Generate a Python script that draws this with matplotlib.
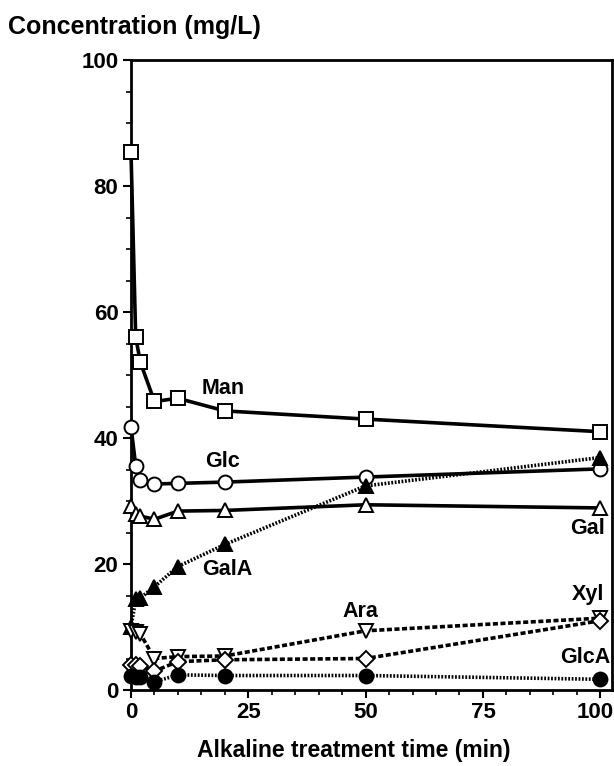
import numpy as np
import matplotlib.pyplot as plt
from matplotlib.ticker import MultipleLocator, FuncFormatter

plt.rcParams['font.family'] = 'Liberation Sans'
plt.rcParams['font.weight'] = 'bold'

# Sampling times (min)
t = [0, 1, 2, 5, 10, 20, 50, 100]

# Concentrations (mg/L)
man  = [85.4, 56.0, 52.0, 45.8, 46.3, 44.3, 43.0, 41.0]
glc  = [41.8, 35.6, 33.3, 32.7, 32.8, 33.0, 33.8, 35.1]
gal  = [29.2, 28.0, 27.6, 27.1, 28.4, 28.5, 29.4, 28.9]
gala = [10.0, 14.4, 14.6, 16.4, 19.6, 23.1, 32.4, 36.9]
ara  = [9.4, 9.2, 8.9, 5.0, 5.3, 5.4, 9.4, 11.4]
xyl  = [4.0, 3.9, 3.8, 3.0, 4.5, 4.8, 5.0, 11.0]
glca = [2.2, 2.0, 2.0, 1.3, 2.4, 2.3, 2.3, 1.7]

fig = plt.figure(figsize=(6.14, 7.66), dpi=100)
ax = fig.add_axes([131/614, 76/766, 481/614, 630/766])

lw = 2.6
ms = 10
mk = dict(markersize=ms, markeredgewidth=1.4, markeredgecolor='black', clip_on=False, zorder=3)

ax.plot(t, man, '-s', color='black', lw=lw, markerfacecolor='white', **mk)
ax.plot(t, glc, '-o', color='black', lw=lw, markerfacecolor='white', **mk)
ax.plot(t, gal, '-^', color='black', lw=lw, markerfacecolor='white', **mk)
ax.plot(t, gala, '^', color='black', ls=(0, (0.5, 0.45)), lw=lw, markerfacecolor='black', **mk)
ax.plot(t, ara, 'v', color='black', ls=(0, (1.4, 0.7)), lw=lw, markerfacecolor='white', **mk)
ax.plot(t, xyl, 'D', color='black', ls=(0, (1.4, 0.7)), lw=lw, markerfacecolor='white',
        markersize=8, markeredgewidth=1.4, markeredgecolor='black', clip_on=False, zorder=3)
ax.plot(t, glca, 'o', color='black', ls=(0, (0.5, 0.45)), lw=lw, markerfacecolor='black', **mk)

lab = dict(fontsize=15.5, fontweight='bold', ha='center', va='center')
ax.text(19.6, 47.9, 'Man', **lab)
ax.text(19.4, 36.2, 'Glc', **lab)
ax.text(20.5, 19.2, 'GalA', **lab)
ax.text(97.2, 25.7, 'Gal', **lab)
ax.text(48.8, 12.4, 'Ara', **lab)
ax.text(97.4, 15.1, 'Xyl', **lab)
ax.text(96.8, 5.1, 'GlcA', **lab)

ax.set_xlim(0, 102.5)
ax.set_ylim(0, 100)
ax.xaxis.set_major_locator(MultipleLocator(25))
ax.xaxis.set_minor_locator(MultipleLocator(5))
ax.yaxis.set_major_locator(MultipleLocator(20))
ax.yaxis.set_minor_locator(MultipleLocator(5))
# the "100" x label is drawn by hand a little to the left so it fits the figure
ax.xaxis.set_major_formatter(FuncFormatter(lambda v, p: '' if v >= 100 else f'{v:g}'))
ax.tick_params(which='major', direction='out', length=6, width=1.5, labelsize=16, pad=3)
ax.tick_params(which='minor', direction='out', length=3.5, width=1.2)
for s in ax.spines.values():
    s.set_linewidth(2)
ax.annotate('100', xy=(100, 0), xytext=(-4, -9), textcoords='offset points',
            ha='center', va='top', fontsize=16, fontweight='bold', annotation_clip=False)

ax.set_xlabel('Alkaline treatment time (min)', fontsize=16.5, fontweight='bold')
ax.xaxis.set_label_coords(0.464, -0.078)
fig.text(8/614, 1 - 27/766, 'Concentration (mg/L)', fontsize=18, fontweight='bold', va='center')

fig.savefig('out.png', dpi=100)
